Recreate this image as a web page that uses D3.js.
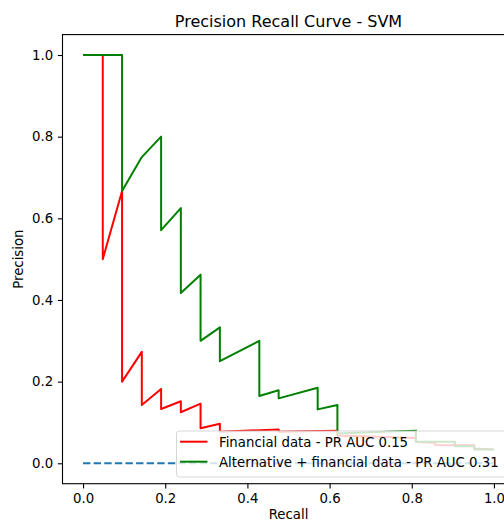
<!DOCTYPE html>
<html>
<head>
<meta charset="utf-8">
<script src="https://cdn.jsdelivr.net/npm/d3@7"></script>
<style>
  body { margin: 0; background: #fff; }
  text { font-family: "DejaVu Sans", sans-serif; fill: #000; }
</style>
</head>
<body>
<div id="chart"></div>
<script>
// values
var finRecall = [0, 0.048, 0.048, 0.095, 0.095, 0.143, 0.143, 0.190, 0.190, 0.238, 0.238, 0.286, 0.286,
  0.333, 0.333, 0.476, 0.476, 0.619, 0.619, 0.810, 0.810, 0.857, 0.857, 0.952, 0.952, 1.0];
var finPrecision = [1.0, 1.0, 0.5, 0.667, 0.2, 0.273, 0.143, 0.182, 0.133, 0.152, 0.125, 0.146, 0.086,
  0.097, 0.077, 0.083, 0.077, 0.080, 0.068, 0.062, 0.052, 0.050, 0.045, 0.044, 0.036, 0.034];

var altRecall = [0, 0.095, 0.095, 0.143, 0.190, 0.190, 0.238, 0.238, 0.286, 0.286, 0.333, 0.333, 0.429,
  0.429, 0.476, 0.476, 0.571, 0.571, 0.619, 0.619, 0.810, 0.810, 0.905, 0.905, 0.952, 0.952, 1.0];
var altPrecision = [1.0, 1.0, 0.667, 0.75, 0.8, 0.571, 0.625, 0.417, 0.462, 0.3, 0.333, 0.25, 0.3,
  0.165, 0.179, 0.159, 0.185, 0.132, 0.143, 0.073, 0.080, 0.053, 0.053, 0.042, 0.042, 0.034, 0.034];

var noSkillRecall = [0, 1];
var noSkillPrecision = [0, 0];

var xTicks = [0, 0.2, 0.4, 0.6, 0.8, 1.0];
var yTicks = [0, 0.2, 0.4, 0.6, 0.8, 1.0];

var seriesNames = ["Financial data - PR AUC 0.15", "Alternative + financial data - PR AUC 0.31"];
var seriesColors = ["red", "green"];

var svgWidth = 504;
var svgHeight = 522;
var fontSize = "13.3px";

// axes box (right side runs past the window, like the reference)
var box = { left: 62.5, top: 34.6, right: 514.5, bottom: 483.7 };

var svg = d3.select("#chart")
  .append("svg")
  .attr("width", svgWidth)
  .attr("height", svgHeight);

var x = d3.scaleLinear().domain([-0.05, 1.05]).range([box.left, box.right]);
var y = d3.scaleLinear().domain([-0.05, 1.05]).range([box.bottom, box.top]);

svg.append("clipPath").attr("id", "clip")
  .append("rect")
  .attr("x", box.left).attr("y", box.top)
  .attr("width", box.right - box.left).attr("height", box.bottom - box.top);

var plot = svg.append("g").attr("clip-path", "url(#clip)");

var line = d3.line()
  .x(d => x(d[0]))
  .y(d => y(d[1]));

// no-skill line
plot.append("path")
  .datum(d3.zip(noSkillRecall, noSkillPrecision))
  .attr("d", line)
  .attr("fill", "none")
  .attr("stroke", "#1f77b4")
  .attr("stroke-width", 2)
  .attr("stroke-dasharray", "7.4,3.2");

plot.append("path")
  .datum(d3.zip(finRecall, finPrecision))
  .attr("d", line)
  .attr("fill", "none")
  .attr("stroke", seriesColors[0])
  .attr("stroke-width", 2)
  .attr("stroke-linejoin", "round");

plot.append("path")
  .datum(d3.zip(altRecall, altPrecision))
  .attr("d", line)
  .attr("fill", "none")
  .attr("stroke", seriesColors[1])
  .attr("stroke-width", 2)
  .attr("stroke-linejoin", "round");

// Axes
var bottomAxis = d3.axisBottom(x).tickValues(xTicks).tickFormat(d3.format(".1f"))
  .tickSize(4.7).tickSizeOuter(0).tickPadding(4.7);
var leftAxis = d3.axisLeft(y).tickValues(yTicks).tickFormat(d3.format(".1f"))
  .tickSize(4.7).tickSizeOuter(0).tickPadding(4.7);

var gx = svg.append("g")
  .attr("transform", `translate(0, ${box.bottom})`)
  .call(bottomAxis);
var gy = svg.append("g")
  .attr("transform", `translate(${box.left}, 0)`)
  .call(leftAxis);

[gx, gy].forEach(function(g) {
  g.select(".domain").remove();
  g.selectAll("line").attr("stroke", "#000").attr("stroke-width", 1.1);
  g.selectAll("text")
    .attr("font-family", "DejaVu Sans")
    .attr("font-size", fontSize)
    .attr("fill", "#000");
});

// frame
svg.append("rect")
  .attr("x", box.left).attr("y", box.top)
  .attr("width", box.right - box.left).attr("height", box.bottom - box.top)
  .attr("fill", "none")
  .attr("stroke", "#000")
  .attr("stroke-width", 1.1);

// Legend
var legend = svg.append("g");
legend.append("rect")
  .attr("x", 176.5).attr("y", 431)
  .attr("width", 332).attr("height", 46)
  .attr("rx", 2.7)
  .attr("fill", "#fff").attr("fill-opacity", 0.8)
  .attr("stroke", "#cccccc").attr("stroke-opacity", 0.8)
  .attr("stroke-width", 1);

seriesNames.forEach(function(name, i) {
  var ly = 441.7 + i * 20;
  legend.append("line")
    .attr("x1", 180).attr("x2", 207.5)
    .attr("y1", ly).attr("y2", ly)
    .attr("stroke", seriesColors[i])
    .attr("stroke-width", 2);
  legend.append("text")
    .attr("x", 219)
    .attr("y", ly + 4.8)
    .attr("font-size", fontSize)
    .text(name);
});

// Titles
svg.append("text")
  .attr("x", (box.left + box.right) / 2)
  .attr("y", 27)
  .attr("text-anchor", "middle")
  .attr("font-size", "16px")
  .text("Precision Recall Curve - SVM");

svg.append("text")
  .attr("x", (box.left + box.right) / 2)
  .attr("y", 519)
  .attr("text-anchor", "middle")
  .attr("font-size", fontSize)
  .text("Recall");

svg.append("text")
  .attr("transform", "rotate(-90)")
  .attr("x", -(box.top + box.bottom) / 2)
  .attr("y", 23)
  .attr("text-anchor", "middle")
  .attr("font-size", fontSize)
  .text("Precision");
</script>
</body>
</html>
